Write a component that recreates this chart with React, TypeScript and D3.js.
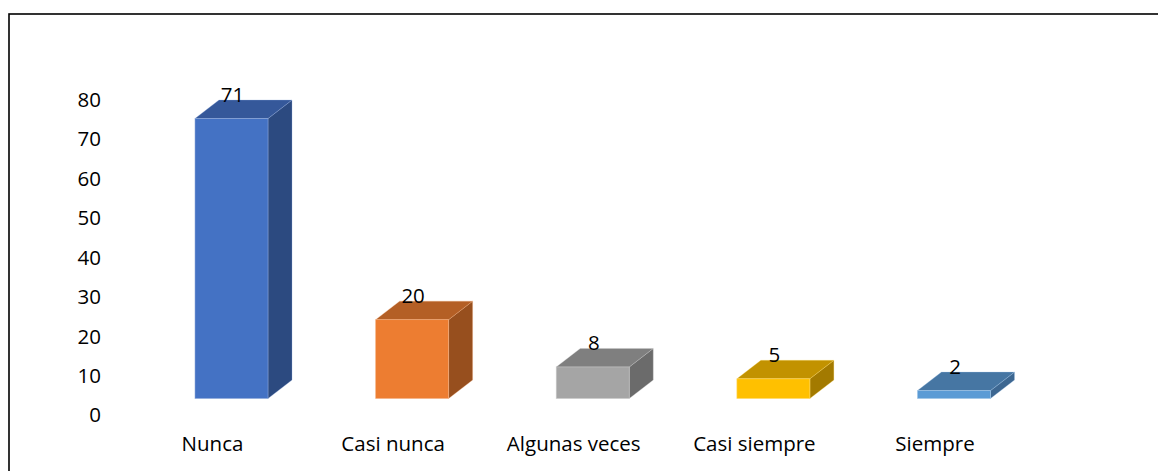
import React from "react";
import * as d3 from "d3";

const categories = ["Nunca", "Casi nunca", "Algunas veces", "Casi siempre", "Siempre"];
const values = [71, 20, 8, 5, 2];
const yTicks = [0, 10, 20, 30, 40, 50, 60, 70, 80];

const frontColors = ["#4472C4", "#ED7D31", "#A5A5A5", "#FFC000", "#5B9BD5"];
const topColors = ["#35589A", "#B45F25", "#7F7F7F", "#C29200", "#4676A3"];
const sideColors = ["#2C4A80", "#974F1E", "#6B6B6B", "#A37A00", "#3D6791"];
const edgeColors = ["#8FAADC", "#F4B183", "#C9C9C9", "#FFD966", "#9DC3E6"];

const W = 1158;
const H = 471;
const FONT = "'Open Sans', 'Liberation Sans', sans-serif";
const FS = 20.5;

export default function App() {
  const x = d3.scalePoint<string>().domain(categories).range([231.5, 954]);
  const barW = 73;
  const yBar = d3.scaleLinear().domain([0, 80]).range([398.5, 398.5 - 80 * 3.943]);
  const yAxis = d3.scaleLinear().domain([0, 80]).range([414.4, 414.4 - 80 * 3.943]);
  const dx = 24;
  const dy = -18.5;

  return (
    <svg
      width={W}
      height={H}
      style={{ position: "absolute", left: 0, top: 0, background: "#fff" }}
      fontFamily={FONT}
    >
      <rect x={0} y={0} width={W} height={H} fill="#fff" />
      <rect x={9} y={14} width={W + 20} height={H + 20} fill="none" stroke="#000" strokeWidth={1.6} />

      {yTicks.map((t) => (
        <text
          key={t}
          x={101}
          y={yAxis(t)}
          textAnchor="end"
          dominantBaseline="central"
          fontSize={FS}
          fill="#000"
        >
          {t}
        </text>
      ))}

      {categories.map((c, i) => {
        const cx = x(c)!;
        const x0 = cx - barW / 2;
        const x1 = cx + barW / 2;
        const yb = yBar(0);
        const yt = yBar(values[i]);
        const top = `${x0},${yt} ${x0 + dx},${yt + dy} ${x1 + dx},${yt + dy} ${x1},${yt}`;
        const side = `${x1},${yt} ${x1 + dx},${yt + dy} ${x1 + dx},${yb + dy} ${x1},${yb}`;
        return (
          <g key={c}>
            <polygon points={side} fill={sideColors[i]} stroke={edgeColors[i]} strokeWidth={0.6} strokeOpacity={0.5} />
            <polygon points={top} fill={topColors[i]} stroke={edgeColors[i]} strokeWidth={0.6} strokeOpacity={0.5} />
            <rect
              x={x0}
              y={yt}
              width={barW}
              height={yb - yt}
              fill={frontColors[i]}
              stroke={edgeColors[i]}
              strokeWidth={0.8}
              strokeOpacity={0.7}
            />
            <text
              x={cx + 1}
              y={yt + dy + 1.5}
              textAnchor="middle"
              fontSize={FS}
              fill="#000"
            >
              {values[i]}
            </text>
            <text
              x={cx - 19}
              y={443}
              textAnchor="middle"
              dominantBaseline="central"
              fontSize={FS}
              fill="#000"
            >
              {c}
            </text>
          </g>
        );
      })}
    </svg>
  );
}
